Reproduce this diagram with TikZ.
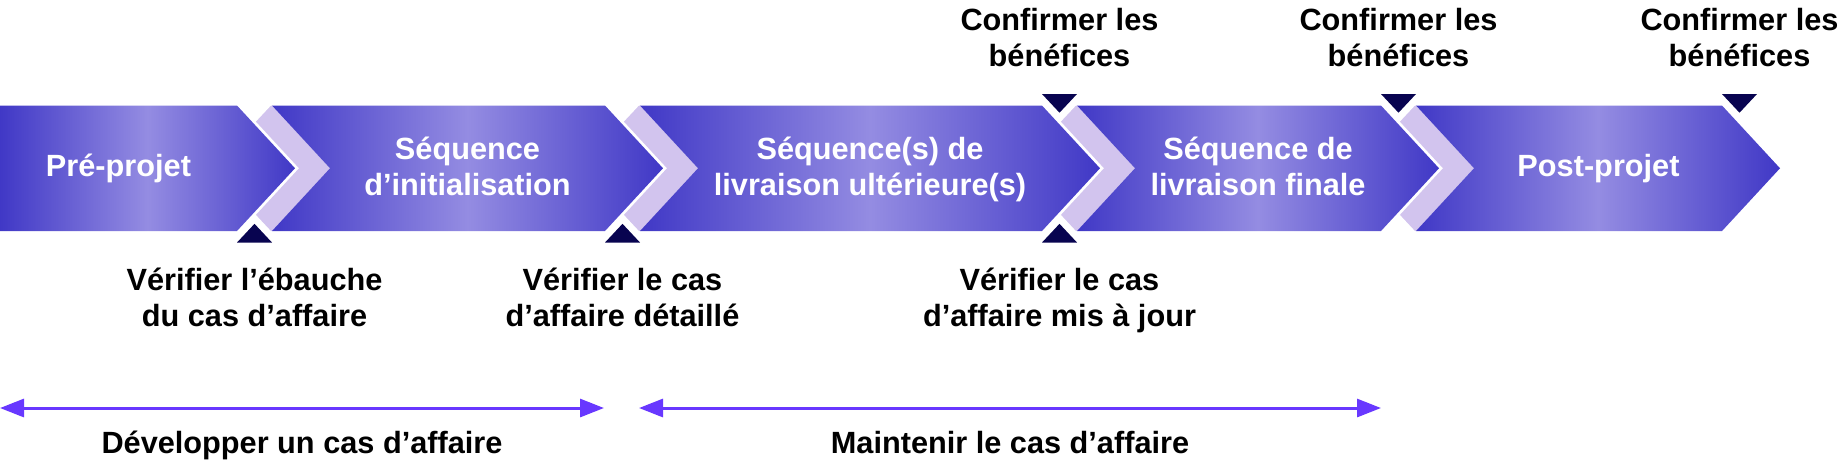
\documentclass[tikz,border=0pt]{standalone}
\usepackage{fontspec}
\setmainfont{Liberation Sans}
\usetikzlibrary{arrows.meta}
\definecolor{chevdark}{RGB}{64,56,198}
\definecolor{chevlight}{RGB}{148,140,226}
\definecolor{bandlav}{RGB}{210,196,238}
\definecolor{marknavy}{RGB}{8,4,80}
\definecolor{spanviolet}{RGB}{104,56,255}
\tikzset{
  chev/.style={left color=chevdark, right color=chevdark, middle color=chevlight, draw=none},
  lavband/.style={fill=bandlav, draw=none},
  halo/.style={fill=white, draw=none},
  marker/.style={fill=marknavy, draw=none},
  txt/.style={font=\bfseries\fontsize{15.35pt}{18.35pt}\selectfont, align=center, anchor=base, inner sep=0pt},
  steplabel/.style={txt, text=white},
  milestone/.style={txt, text=black},
  span/.style={draw=spanviolet, line width=1.5pt, {Triangle[length=12pt,width=9pt]}-{Triangle[length=12pt,width=9pt]}},
}
\begin{document}
\begin{tikzpicture}[x=0.5pt,y=-0.5pt]
\useasboundingbox (0,0) rectangle (1838,463);
% lavender bands at the junctions
\foreach \R in {237,605,1042,1381}{
  \fill[lavband] ({\R+4},105.5) -- ({\R+35},105.5) -- ({\R+93},168.25) -- ({\R+35},231) -- ({\R+4},231) -- ({\R+62},168.25) -- cycle;
}
% chevrons
\shade[chev] (0,105.5) -- (237,105.5) -- (295,168.25) -- (237,231) -- (0,231) -- cycle;
\foreach \L/\R in {272/605,640/1042,1077/1381,1416/1722}{
  \shade[chev] (\L,105.5) -- (\R,105.5) -- ({\R+58},168.25) -- (\R,231) -- (\L,231) -- ({\L+58},168.25) -- cycle;
}
% white halos
\foreach \R in {237,605,1042,1381,1722}{
  \fill[halo] ({\R+17.5-30.9},90) -- ({\R+17.5+30.9},90) -- ({\R+17.5},123) -- cycle;
}
\foreach \R in {237,605,1042,1381}{
  \fill[halo] ({\R+17.5-30.9},246.5) -- ({\R+17.5+30.9},246.5) -- ({\R+17.5},213.5) -- cycle;
}
% navy markers
\foreach \R in {1042,1381,1722}{
  \fill[marker] (\R,94) -- ({\R+35},94) -- ({\R+17.5},112.7) -- cycle;
}
\foreach \R in {237,605,1042}{
  \fill[marker] (\R,242.5) -- ({\R+35},242.5) -- ({\R+17.5},223.8) -- cycle;
}
% step texts (base anchor = last line baseline)
\node[steplabel] (pre) at (118.5,176.7) {Pré-projet};
\node[steplabel] (seqinit) at (467.5,195.7) {Séquence\\d’initialisation};
\node[steplabel] (seqliv) at (870,195.7) {Séquence(s) de\\livraison ultérieure(s)};
\node[steplabel] (seqfin) at (1258,195.7) {Séquence de\\livraison finale};
\node[steplabel] (post) at (1598.5,176.7) {Post-projet};
% milestones
\node[milestone] (verif1) at (254.5,326.7) {Vérifier l’ébauche\\du cas d’affaire};
\node[milestone] (verif2) at (622.5,326.7) {Vérifier le cas\\d’affaire détaillé};
\node[milestone] (verif3) at (1059.5,326.7) {Vérifier le cas\\d’affaire mis à jour};
\node[milestone] (conf1) at (1059.5,66.7) {Confirmer les\\bénéfices};
\node[milestone] (conf2) at (1398.5,66.7) {Confirmer les\\bénéfices};
\node[milestone] (conf3) at (1739.5,66.7) {Confirmer les\\bénéfices};
% spans
\coordinate (devL) at (0,408);
\coordinate (devR) at (604,408);
\coordinate (mainL) at (639,408);
\coordinate (mainR) at (1381,408);
\draw[span] (devL) -- (devR);
\draw[span] (mainL) -- (mainR);
\node[milestone] (dev) at (302,453) {Développer un cas d’affaire};
\node[milestone] (main) at (1010,453) {Maintenir le cas d’affaire};
\end{tikzpicture}
\end{document}
